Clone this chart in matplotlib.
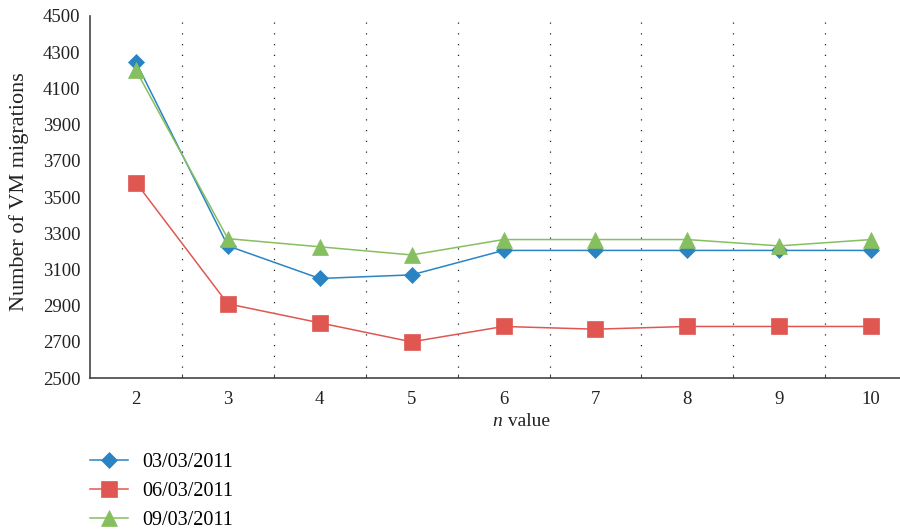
import matplotlib
matplotlib.use("Agg")
import matplotlib.pyplot as plt

n_values = [2, 3, 4, 5, 6, 7, 8, 9, 10]
series_labels = ["03/03/2011", "06/03/2011", "09/03/2011"]
s_0303 = [4245, 3230, 3050, 3070, 3205, 3205, 3205, 3205, 3205]
s_0603 = [3580, 2910, 2805, 2700, 2785, 2770, 2785, 2785, 2785]
s_0903 = [4200, 3270, 3225, 3180, 3265, 3265, 3265, 3230, 3265]
y_ticks = list(range(2500, 4501, 200))

plt.rcParams['font.family'] = ['Liberation Serif', 'DejaVu Serif']

fig = plt.figure(figsize=(9, 5.31), dpi=100)
ax = fig.add_axes([0.1, 0.288, 1.019 - 0.1, 0.970 - 0.288])

colors = ['#2a84c4', '#e05752', '#85bf5f']
markers = ['D', 's', '^']
msizes = [8.6, 11, 12]
for vals, lab, c, m, ms in zip([s_0303, s_0603, s_0903], series_labels, colors, markers, msizes):
    ax.plot(n_values, vals, color=c, marker=m, markersize=ms, linewidth=1.1,
            markeredgewidth=0.5, markeredgecolor=c, label=lab)

ax.set_xlim(1.5, 10.5)
ax.set_ylim(2500, 4500)
ax.set_yticks(y_ticks)
ax.set_xticks(n_values)
bounds = [v + 0.5 for v in n_values[:-1]]
for b in bounds:
    ax.axvline(b, color='#222222', linestyle=(0, (1, 7.6)), linewidth=0.9, zorder=0)
ax.set_xticks(bounds, minor=True)
ax.tick_params(axis='x', which='minor', direction='in', length=3, width=0.8, color='#444444')

for s in ['top', 'right']:
    ax.spines[s].set_visible(False)
for s in ['left', 'bottom']:
    ax.spines[s].set_color('#444444')
    ax.spines[s].set_linewidth(1.2)
ax.tick_params(which='major', length=0, labelsize=13.5, colors='#222222', pad=7)
ax.tick_params(axis='x', which='major', pad=9.5)

fig.text(19 / 900, 1 - 191.5 / 531, "Number of VM migrations", rotation=90,
         fontsize=16, ha='center', va='center', color='#222222')
fig.text(502 / 900, 1 - 421 / 531, "n", fontsize=14, style='italic', ha='right', va='center', color='#222222')
fig.text(503 / 900, 1 - 421 / 531, " value", fontsize=14, ha='left', va='center', color='#222222')

fig.legend(loc='upper left', bbox_to_anchor=(0.1, 1 - 453 / 531), bbox_transform=fig.transFigure,
           frameon=False, fontsize=14.5, handlelength=1.9, handletextpad=0.7,
           labelspacing=0.48, borderaxespad=0, borderpad=0)

fig.savefig("out.png", dpi=100)
